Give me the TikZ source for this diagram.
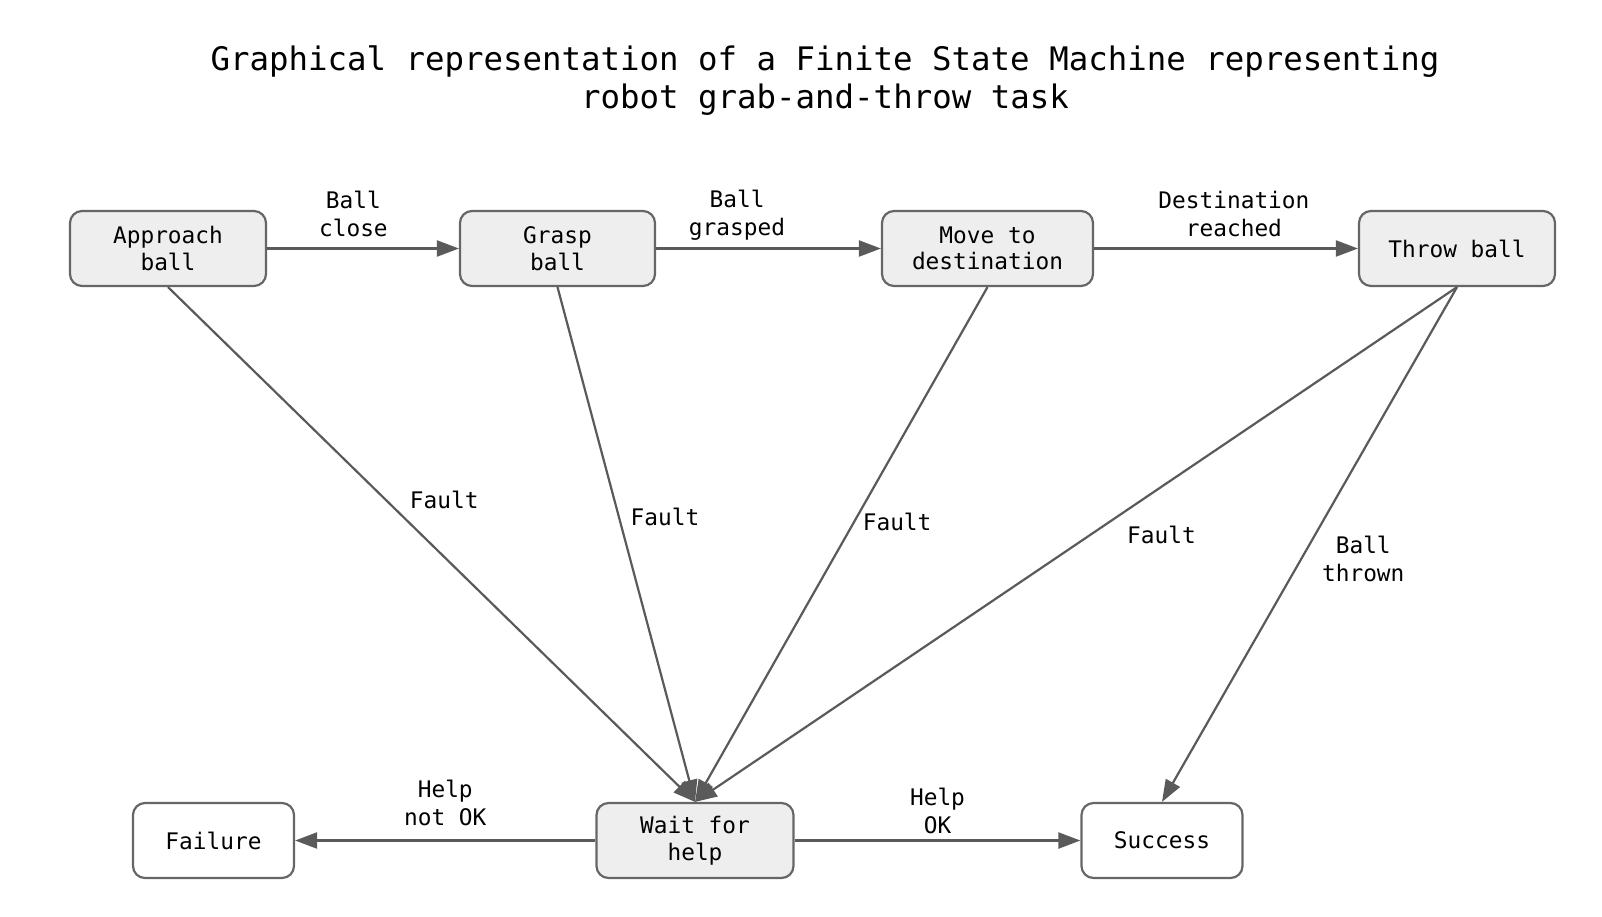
\documentclass[tikz,border=0pt]{standalone}
\usepackage{fontspec}
\usetikzlibrary{arrows.meta}
\newfontfamily\monofam{DejaVu Sans Mono}
\newcommand\boxfont{\monofam\fontsize{22.8}{26.5}\selectfont}
\newcommand\labfont{\monofam\fontsize{22.8}{28}\selectfont}
\newcommand\titfont{\monofam\fontsize{32.4}{38.5}\selectfont}
\definecolor{boxfill}{HTML}{EEEEEE}
\definecolor{boxc}{HTML}{666666}
\definecolor{linec}{HTML}{5A5A5A}
\tikzset{
  state/.style={draw=boxc, fill=boxfill, line width=2.2pt, rounded corners=12pt,
    minimum height=75pt, align=center, inner sep=0pt, font=\boxfont},
  final/.style={state, fill=white},
  tr/.style={draw=linec, line width=2.2pt, -{Triangle[length=22pt,width=16pt]}},
  lab/.style={font=\labfont, align=center, inner sep=0pt}
}
\begin{document}
\begin{tikzpicture}[x=1pt,y=-1pt]
\useasboundingbox (0,0) rectangle (1602,916);
\node[font=\titfont, align=center] (title) at (825,80.5)
  {Graphical representation of a Finite State Machine representing\\robot grab-and-throw task};
\node[state, minimum width=196pt] (app) at (168,248.5) {Approach\\ball};
\node[state, minimum width=195pt] (gr) at (557.5,248.5) {Grasp\\ball};
\node[state, minimum width=211pt] (mv) at (987.5,248.5) {Move to\\destination};
\node[state, minimum width=196pt] (th) at (1457,248.5) {Throw ball};
\node[final, minimum width=161pt] (fail) at (213.5,840.5) {Failure};
\node[state, minimum width=197pt] (wt) at (695,840.5) {Wait for\\help};
\node[final, minimum width=161pt] (suc) at (1162,840.5) {Success};

\draw[tr] (app) -- node[lab, pos=0.45, yshift=34.5pt] {Ball\\close} (gr);
\draw[tr] (gr) -- node[lab, pos=0.36, yshift=33.5pt] {Ball\\grasped} (mv);
\draw[tr] (mv) -- node[lab, pos=0.53, yshift=34.5pt] {Destination\\reached} (th);

\draw[tr] (app.south) -- node[lab, pos=0.414, xshift=58pt] {Fault} (wt.north);
\draw[tr] (gr.south) -- node[lab, pos=0.447, xshift=46pt] {Fault} (wt.north);
\draw[tr] (mv.south) -- node[lab, pos=0.456, xshift=43pt] {Fault} (wt.north);
\draw[tr] (th.south) -- node[lab, pos=0.481, xshift=71pt] {Fault} (wt.north);
\draw[tr] (th.south) -- node[lab, pos=0.528, xshift=62pt] {Ball\\thrown} (suc.north);

\draw[tr] (wt) -- node[lab, pos=0.5, yshift=37.5pt] {Help\\not OK} (fail);
\draw[tr] (wt) -- node[lab, pos=0.5, yshift=29.5pt] {Help\\OK} (suc);
\end{tikzpicture}
\end{document}
